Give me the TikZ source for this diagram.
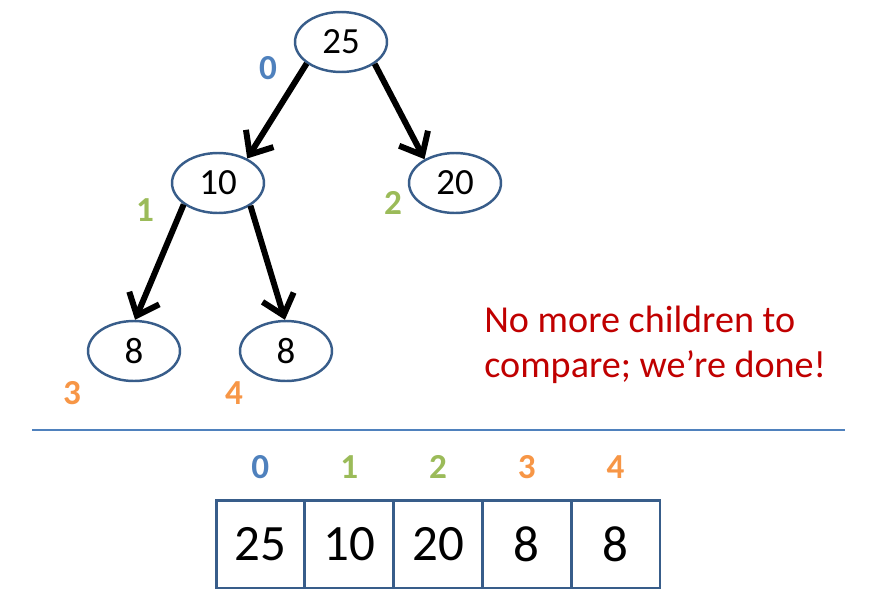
\documentclass[tikz,border=0pt]{standalone}
\usepackage{fontspec}
\setmainfont{Carlito}
\usetikzlibrary{shapes.geometric,arrows.meta}
\definecolor{heapblue}{HTML}{4F81BD}
\definecolor{heapgreen}{HTML}{9BBB59}
\definecolor{heaporange}{HTML}{F79646}
\definecolor{heapedge}{HTML}{385D8A}
\definecolor{heapred}{HTML}{C00000}

\begin{document}
\begin{tikzpicture}[x=0.02cm,y=-0.02cm,
  heapnode/.style={ellipse,draw=heapedge,line width=1.4pt,minimum width=1.84cm,minimum height=1.2cm,inner sep=0pt,font=\fontsize{21}{24}\selectfont},
  child/.style={line width=3.4pt,-{Straight Barb[length=3.8mm,width=6.5mm]}},
  idx/.style={font=\fontsize{20}{24}\selectfont\bfseries},
  cell/.style={draw=heapedge,line width=1.7pt,minimum width=1.776cm,minimum height=1.76cm,inner sep=0pt,font=\fontsize{29}{34}\selectfont}]
\useasboundingbox (0,0) rectangle (875,605);
% the tree
\node[heapnode] (n25) at (341,42) {25};
\node[heapnode] (n10) at (218,183) {10};
\node[heapnode] (n20) at (455,183) {20};
\node[heapnode] (n8a) at (134,351) {8};
\node[heapnode] (n8b) at (286,351) {8};
\draw[child] (n25.212) -- (n10.40);
\draw[child] (n25.327) -- (n20.142);
\draw[child] (n10.212) -- (n8a.88);
\draw[child] (n10.325) -- (n8b.92);
\node[idx,text=heapblue] (t0) at (268,68) {0};
\node[idx,text=heapgreen] (t1) at (145,210) {1};
\node[idx,text=heapgreen] (t2) at (393,203) {2};
\node[idx,text=heaporange] (t3) at (72,393) {3};
\node[idx,text=heaporange] (t4) at (234,393) {4};
\node[anchor=west,align=left,inner sep=0pt,text=heapred,font=\fontsize{21.7}{25.5}\selectfont] (msg) at (484,345) {No more children to\\compare; we’re done!};
% separator
\coordinate (s1) at (32,430); \coordinate (s2) at (845,430);
\draw[heapblue,line width=0.6pt] (s1) -- (s2);
% the array
\foreach \v/\col [count=\i from 0] in {25/heapblue,10/heapgreen,20/heapgreen,8/heaporange,8/heaporange}{
  \node[cell] (c\i) at ({260.4+88.8*\i},544) {\v};
  \node[idx,text=\col] (a\i) at ({260.4+88.8*\i},467) {\i};
}
\end{tikzpicture}
\end{document}
